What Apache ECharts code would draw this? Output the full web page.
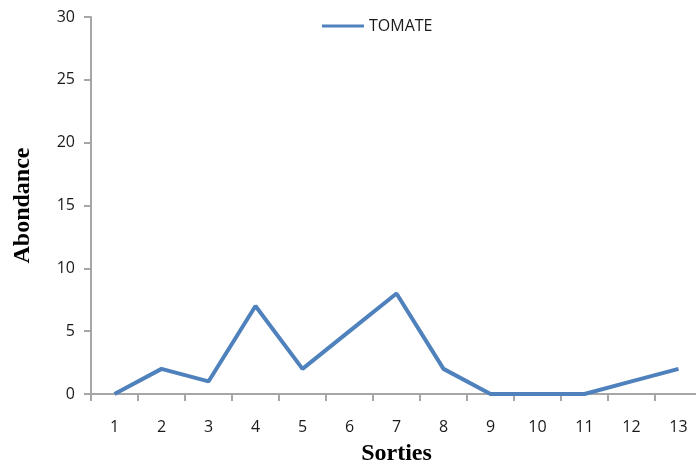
<!DOCTYPE html>
<html>
<head>
<meta charset="utf-8">
<script src="https://cdn.jsdelivr.net/npm/echarts@6/dist/echarts.min.js"></script>
<style>
  html, body { margin: 0; padding: 0; background: #fff; }
  #main { width: 696px; height: 462px; }
</style>
</head>
<body>
<div id="main"></div>
<script>
// sorties 1..13
var categories = ["1", "2", "3", "4", "5", "6", "7", "8", "9", "10", "11", "12", "13"];
var tomate = [0, 2, 1, 7, 2, 5, 8, 2, 0, 0, 0, 1, 2];

var myChart = echarts.init(document.getElementById("main"));
var axisColor = "#a6a6a6";
var labelFont = "Open Sans";

var option = {
  animation: false,
  backgroundColor: "#fff",
  legend: {
    data: ["TOMATE"],
    top: 13,
    left: 317,
    icon: "rect",
    itemWidth: 42,
    itemHeight: 3,
    itemGap: 4,
    textStyle: { color: "#1a1a1a", fontFamily: labelFont, fontSize: 16 }
  },
  grid: { left: 91, right: -6, top: 17, bottom: 68, outerBoundsMode: "none", containLabel: false },
  xAxis: {
    type: "category",
    data: categories,
    name: "Sorties",
    nameLocation: "middle",
    nameGap: 48,
    nameTextStyle: { fontFamily: "Liberation Serif", fontWeight: "bold", fontSize: 24, color: "#000" },
    axisLine: { lineStyle: { color: axisColor, width: 2 } },
    axisTick: { show: true, length: 7, lineStyle: { color: axisColor, width: 2 } },
    axisLabel: { margin: 25, fontFamily: labelFont, fontSize: 16, color: "#1a1a1a" }
  },
  yAxis: {
    type: "value",
    min: 0,
    max: 30,
    interval: 5,
    name: "Abondance",
    nameLocation: "middle",
    nameGap: 56,
    nameTextStyle: { fontFamily: "Liberation Serif", fontWeight: "bold", fontSize: 24, color: "#000" },
    splitLine: { show: false },
    axisLine: { show: true, lineStyle: { color: axisColor, width: 2 } },
    axisTick: { show: true, length: 7, lineStyle: { color: axisColor, width: 2 } },
    axisLabel: { margin: 16, fontFamily: labelFont, fontSize: 16, color: "#1a1a1a" }
  },
  series: [
    {
      name: "TOMATE",
      type: "line",
      data: tomate,
      symbol: "none",
      color: "#4f81bd",
      lineStyle: { width: 4, color: "#4f81bd" }
    }
  ]
};

option && myChart.setOption(option);
</script>
</body>
</html>
